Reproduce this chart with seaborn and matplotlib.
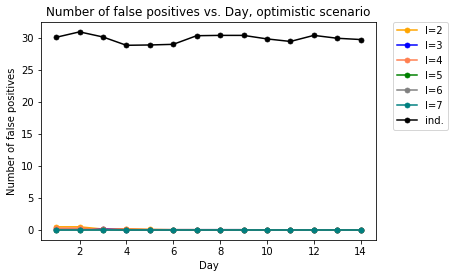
import matplotlib
matplotlib.use("Agg")
import matplotlib.pyplot as plt
import seaborn as sns
import pandas as pd

days = list(range(1, 15))

# false positives per day, one list per group
fp_l2 = [0.5, 0.5, 0.15, 0.2, 0.1, 0.05, 0.05, 0.05, 0.05, 0.0, 0.0, 0.0, 0.0, 0.0]
fp_l3 = [0.1, 0.1, 0.2, 0.05, 0.05, 0.05, 0.05, 0.05, 0.05, 0.0, 0.0, 0.0, 0.0, 0.0]
fp_l4 = [0.3, 0.3, 0.1, 0.15, 0.05, 0.05, 0.05, 0.0, 0.0, 0.0, 0.0, 0.0, 0.0, 0.0]
fp_l5 = [0.05, 0.05, 0.05, 0.0, 0.0, 0.0, 0.0, 0.0, 0.0, 0.0, 0.0, 0.0, 0.0, 0.0]
fp_l6 = [0.05, 0.05, 0.05, 0.0, 0.0, 0.0, 0.0, 0.0, 0.0, 0.0, 0.0, 0.0, 0.0, 0.0]
fp_l7 = [0.0, 0.0, 0.0, 0.0, 0.0, 0.0, 0.0, 0.0, 0.0, 0.0, 0.0, 0.0, 0.0, 0.0]
fp_ind = [30.15, 31.0, 30.2, 28.9, 28.95, 29.05, 30.4, 30.45, 30.45, 29.9, 29.5, 30.45, 30.0, 29.8]

labels = ["l=2", "l=3", "l=4", "l=5", "l=6", "l=7", "ind."]
colors = ["orange", "blue", "coral", "green", "gray", "teal", "black"]
series = [fp_l2, fp_l3, fp_l4, fp_l5, fp_l6, fp_l7, fp_ind]

fig, ax = plt.subplots(figsize=(454 / 72, 278 / 72), dpi=72)
fig.subplots_adjust(left=0.09, right=0.828, bottom=0.137, top=0.921)

for lab, col, vals in zip(labels, colors, series):
    df = pd.DataFrame({"Day": days, "fp": vals})
    sns.lineplot(data=df, x="Day", y="fp", color=col, marker="o", markersize=5,
                 markeredgecolor=col, linewidth=1.5, label=lab, ax=ax)

ax.set_title("Number of false positives vs. Day, optimistic scenario")
ax.set_xlabel("Day")
ax.set_ylabel("Number of false positives")
ax.set_xticks([2, 4, 6, 8, 10, 12, 14])
ax.legend(bbox_to_anchor=(1.05, 1), loc="upper left", borderaxespad=0.)

fig.savefig("out.png", dpi=72)
